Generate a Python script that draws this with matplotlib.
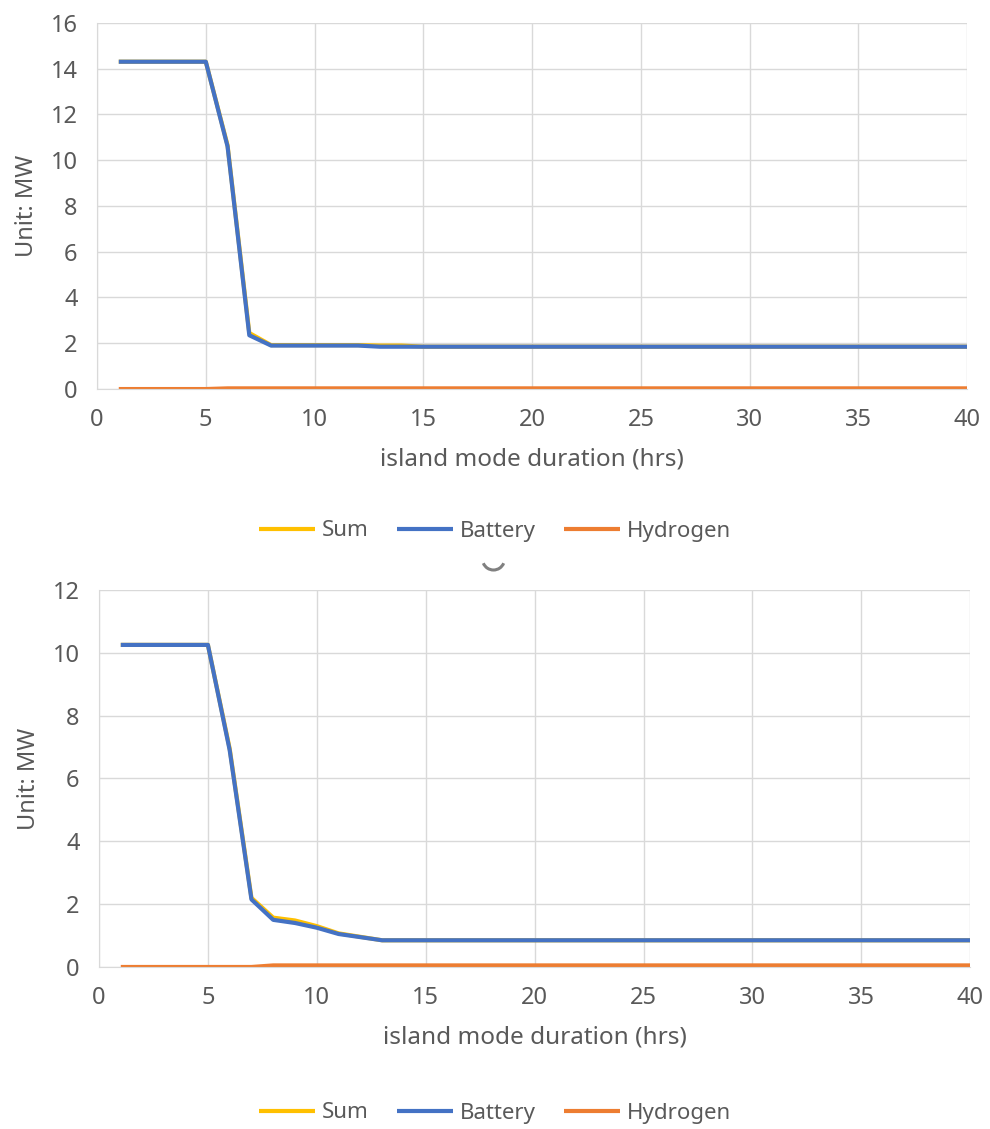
import matplotlib.pyplot as plt
from matplotlib.patches import Arc

plt.rcParams['font.family'] = ['Noto Sans', 'DejaVu Sans']

hours = list(range(1, 41))

# top chart
bat1 = [14.3, 14.3, 14.3, 14.3, 14.3, 10.6, 2.35, 1.9, 1.9, 1.9, 1.9, 1.9] + [1.85] * 28
sum1 = [14.3, 14.3, 14.3, 14.3, 14.3, 10.65, 2.45, 1.92, 1.92, 1.92, 1.92, 1.92, 1.9, 1.9] + [1.85] * 26
h2_1 = [0, 0, 0, 0, 0] + [0.03] * 35

# bottom chart
bat2 = [10.25, 10.25, 10.25, 10.25, 10.25, 6.9, 2.15, 1.5, 1.4, 1.25, 1.05, 0.95] + [0.85] * 28
sum2 = [10.25, 10.25, 10.25, 10.25, 10.25, 6.95, 2.2, 1.57, 1.48, 1.3, 1.07, 0.96] + [0.85] * 28
h2_2 = [0, 0, 0, 0, 0, 0, 0] + [0.05] * 33

names = ['Sum', 'Battery', 'Hydrogen']
colors = ['#FFC000', '#4472C4', '#ED7D31']
grey = '#595959'

fig = plt.figure(figsize=(9.9, 11.29), dpi=100)

def draw(ax, series, ymax, legend_y):
    for s, n, c in zip(series, names, colors):
        ax.plot(hours, s, color=c, lw=3, label=n, solid_capstyle='butt')
    ax.set_xlim(0, 40)
    ax.set_ylim(0, ymax)
    ax.set_xticks(range(0, 41, 5))
    ax.set_yticks(range(0, ymax + 1, 2))
    ax.grid(True, color='#D9D9D9', lw=1)
    ax.set_axisbelow(True)
    for sp in ['top', 'right']:
        ax.spines[sp].set_visible(False)
    for sp in ['left', 'bottom']:
        ax.spines[sp].set_color('#D9D9D9')
    ax.tick_params(length=0, labelsize=17, colors=grey, pad=14)
    ax.set_xlabel('island mode duration (hrs)', fontsize=17.5, color=grey, labelpad=11)
    ax.set_ylabel('Unit: MW', fontsize=17, color=grey, labelpad=8)
    ax.legend(loc='center', bbox_to_anchor=(0.5, legend_y), bbox_transform=fig.transFigure,
              ncol=3, frameon=False, fontsize=16, labelcolor=grey, handlelength=2.5,
              handletextpad=0.3, columnspacing=1.3)

ax1 = fig.add_axes([0.098, 0.6554, 0.879, 0.3244])
draw(ax1, [sum1, bat1, h2_1], 16, 1 - 531 / 1129)

ax2 = fig.add_axes([0.100, 0.1435, 0.880, 0.334])
draw(ax2, [sum2, bat2, h2_2], 12, 1 - 1113 / 1129)

# little scroll mark under the first legend
fig.add_artist(Arc((493.5 / 990, 1 - 559 / 1129), 22 / 990, 22 / 1129, theta1=200, theta2=340,
                   transform=fig.transFigure, color='#808080', lw=2.2))

fig.savefig('out.png', dpi=100)
